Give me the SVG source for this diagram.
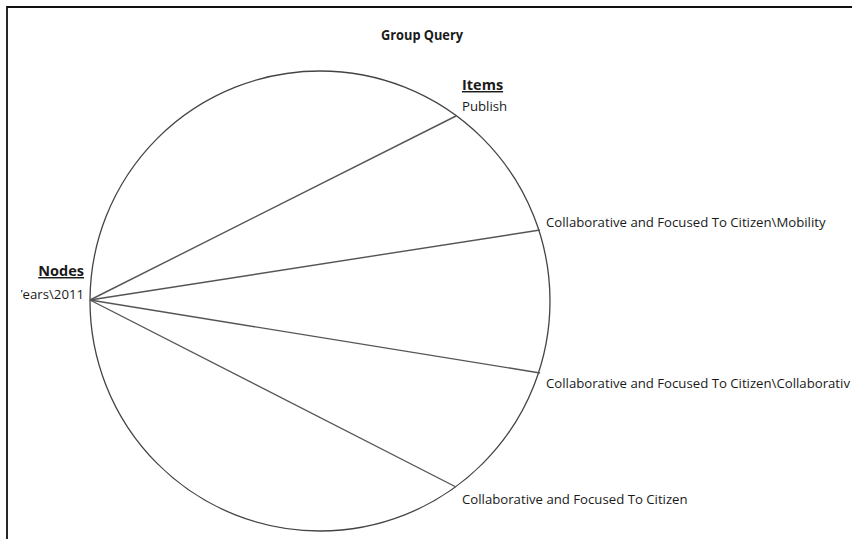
<svg xmlns="http://www.w3.org/2000/svg" width="852" height="539" viewBox="0 0 852 539">
  <style>
    text { font-family: "Open Sans", "Noto Sans", "DejaVu Sans", sans-serif; fill: #1a1a1a; }
    .title { font-size: 14.5px; font-weight: bold; }
    .head { font-size: 14.5px; font-weight: bold; text-decoration: underline; }
    .lbl { font-size: 13.2px; }
    .ring { fill: none; stroke: #444; stroke-width: 1.3; }
    .spoke { stroke: #555; stroke-width: 1.4; fill: none; }
  </style>
  <defs>
    <clipPath id="frameClip"><rect x="8" y="8" width="844" height="531"/></clipPath>
    <clipPath id="sourceClip"><rect x="21" y="250" width="80" height="60"/></clipPath>
  </defs>
  <rect width="852" height="539" fill="#fff"/>

  <!-- frame -->
  <path d="M7 539 V7 H852" fill="none" stroke="#111" stroke-width="1.8"/>

  <text class="title" x="422" y="40" text-anchor="middle" textLength="82" lengthAdjust="spacingAndGlyphs">Group Query</text>

  <g clip-path="url(#frameClip)">
    <g id="ring">
      <circle class="ring" cx="320" cy="301" r="230"/>
    </g>

    <g id="connectors">
      <line class="spoke" x1="90" y1="300" x2="456" y2="116"/>
      <line class="spoke" x1="90" y1="300" x2="540" y2="230"/>
      <line class="spoke" x1="90" y1="300" x2="540" y2="373"/>
      <line class="spoke" x1="90" y1="300" x2="456" y2="487"/>
    </g>

    <g id="node-source">
      <text class="head" x="84" y="276" text-anchor="end">Nodes</text>
      <text class="lbl" x="84" y="299" text-anchor="end" clip-path="url(#sourceClip)">Years\2011</text>
    </g>

    <g id="node-publish">
      <text class="head" x="462" y="90">Items</text>
      <text class="lbl" x="462" y="111">Publish</text>
    </g>

    <g id="node-mobility">
      <text class="lbl" x="546" y="227">Collaborative and Focused To Citizen\Mobility</text>
    </g>

    <g id="node-collaborativ">
      <text class="lbl" x="546" y="388">Collaborative and Focused To Citizen\Collaborativ</text>
    </g>

    <g id="node-citizen">
      <text class="lbl" x="462" y="504">Collaborative and Focused To Citizen</text>
    </g>
  </g>
</svg>
